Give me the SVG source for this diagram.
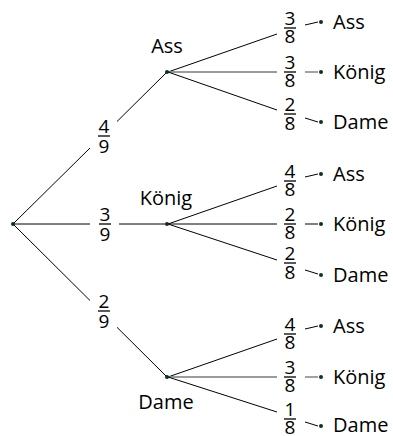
<svg xmlns="http://www.w3.org/2000/svg" width="393" height="436" viewBox="0 0 393 436">
  <style>
    .edge { stroke: #000; stroke-width: 1; fill: none; }
    .edge.grey { stroke: #7a7a7a; stroke-width: 1.4; }
    .bar { stroke: #000; stroke-width: 1.3; }
    .dot { fill: #0d3320; }
    text { font-family: "Open Sans", "Liberation Sans", sans-serif; font-size: 20px; fill: #000; }
    .num { text-anchor: middle; font-size: 19px; }
    .lbl { text-anchor: middle; }
  </style>

  <!-- connectors -->
  <g id="connectors">
    <!-- first stage -->
    <line class="edge" x1="14" y1="223" x2="90" y2="148"/>
    <line class="edge" x1="117" y1="121.5" x2="166" y2="73"/>
    <line class="edge" x1="14" y1="224" x2="90" y2="224"/>
    <line class="edge" x1="119" y1="224" x2="166" y2="224"/>
    <line class="edge" x1="14" y1="225" x2="90" y2="300.5"/>
    <line class="edge" x1="117" y1="327.3" x2="166" y2="376"/>

    <!-- second stage: Ass -->
    <line class="edge" x1="168" y1="72" x2="277" y2="34"/>
    <line class="edge grey" x1="168" y1="72" x2="277" y2="72"/>
    <line class="edge" x1="168" y1="72" x2="277" y2="110"/>
    <line class="edge" x1="305" y1="25" x2="318" y2="22"/>
    <line class="edge grey" x1="305" y1="72" x2="318" y2="72"/>
    <line class="edge" x1="305" y1="118" x2="318" y2="122"/>

    <!-- second stage: König -->
    <line class="edge" x1="168" y1="224" x2="277" y2="186"/>
    <line class="edge" x1="168" y1="224" x2="277" y2="224"/>
    <line class="edge" x1="168" y1="224" x2="277" y2="260"/>
    <line class="edge" x1="305" y1="177" x2="318" y2="174"/>
    <line class="edge" x1="305" y1="224" x2="318" y2="224"/>
    <line class="edge" x1="305" y1="270" x2="318" y2="274"/>

    <!-- second stage: Dame -->
    <line class="edge" x1="168" y1="377" x2="277" y2="339"/>
    <line class="edge grey" x1="168" y1="377" x2="277" y2="377"/>
    <line class="edge" x1="168" y1="377" x2="277" y2="412"/>
    <line class="edge" x1="305" y1="329" x2="318" y2="326"/>
    <line class="edge grey" x1="305" y1="377" x2="318" y2="377"/>
    <line class="edge" x1="305" y1="422" x2="318" y2="426"/>
  </g>

  <!-- first stage probabilities -->
  <g id="p-ass">
    <text class="num" x="104" y="133">4</text>
    <line class="bar" x1="98" y1="136" x2="110" y2="136"/>
    <text class="num" x="104" y="153">9</text>
  </g>
  <g id="p-koenig">
    <text class="num" x="105" y="221">3</text>
    <line class="bar" x1="99" y1="224" x2="111" y2="224"/>
    <text class="num" x="105" y="241">9</text>
  </g>
  <g id="p-dame">
    <text class="num" x="104" y="308">2</text>
    <line class="bar" x1="98" y1="311" x2="110" y2="311"/>
    <text class="num" x="104" y="328">9</text>
  </g>

  <!-- root -->
  <g id="root">
    <circle class="dot" cx="13" cy="224" r="2"/>
  </g>

  <!-- first stage nodes -->
  <g id="node-ass">
    <circle class="dot" cx="167" cy="72" r="2"/>
    <text class="lbl" x="167" y="53">Ass</text>
  </g>
  <g id="node-koenig">
    <circle class="dot" cx="167" cy="224" r="2"/>
    <text class="lbl" x="166" y="205">König</text>
  </g>
  <g id="node-dame">
    <circle class="dot" cx="167" cy="377" r="2"/>
    <text class="lbl" x="166" y="409">Dame</text>
  </g>

  <!-- second stage after Ass -->
  <g id="p-ass-ass">
    <text class="num" x="290" y="25">3</text>
    <line class="bar" x1="284" y1="28" x2="296" y2="28"/>
    <text class="num" x="290" y="43">8</text>
  </g>
  <g id="p-ass-koenig">
    <text class="num" x="290" y="69">3</text>
    <line class="bar" x1="284" y1="72" x2="296" y2="72"/>
    <text class="num" x="290" y="87">8</text>
  </g>
  <g id="p-ass-dame">
    <text class="num" x="290" y="111">2</text>
    <line class="bar" x1="284" y1="114" x2="296" y2="114"/>
    <text class="num" x="290" y="130">8</text>
  </g>
  <g id="leaf-ass-ass">
    <circle class="dot" cx="321" cy="22" r="2"/>
    <text x="333" y="29">Ass</text>
  </g>
  <g id="leaf-ass-koenig">
    <circle class="dot" cx="321" cy="72" r="2"/>
    <text x="333" y="79">König</text>
  </g>
  <g id="leaf-ass-dame">
    <circle class="dot" cx="321" cy="122" r="2"/>
    <text x="333" y="129">Dame</text>
  </g>

  <!-- second stage after König -->
  <g id="p-koenig-ass">
    <text class="num" x="290" y="178">4</text>
    <line class="bar" x1="284" y1="181" x2="296" y2="181"/>
    <text class="num" x="290" y="196">8</text>
  </g>
  <g id="p-koenig-koenig">
    <text class="num" x="290" y="221">2</text>
    <line class="bar" x1="284" y1="224" x2="296" y2="224"/>
    <text class="num" x="290" y="239">8</text>
  </g>
  <g id="p-koenig-dame">
    <text class="num" x="290" y="260">2</text>
    <line class="bar" x1="284" y1="263" x2="296" y2="263"/>
    <text class="num" x="290" y="279">8</text>
  </g>
  <g id="leaf-koenig-ass">
    <circle class="dot" cx="321" cy="174" r="2"/>
    <text x="333" y="181">Ass</text>
  </g>
  <g id="leaf-koenig-koenig">
    <circle class="dot" cx="321" cy="224" r="2"/>
    <text x="333" y="231">König</text>
  </g>
  <g id="leaf-koenig-dame">
    <circle class="dot" cx="321" cy="275" r="2"/>
    <text x="333" y="282">Dame</text>
  </g>

  <!-- second stage after Dame -->
  <g id="p-dame-ass">
    <text class="num" x="290" y="331">4</text>
    <line class="bar" x1="284" y1="334" x2="296" y2="334"/>
    <text class="num" x="290" y="349">8</text>
  </g>
  <g id="p-dame-koenig">
    <text class="num" x="290" y="374">3</text>
    <line class="bar" x1="284" y1="377" x2="296" y2="377"/>
    <text class="num" x="290" y="392">8</text>
  </g>
  <g id="p-dame-dame">
    <text class="num" x="290" y="416">1</text>
    <line class="bar" x1="284" y1="419" x2="296" y2="419"/>
    <text class="num" x="290" y="434">8</text>
  </g>
  <g id="leaf-dame-ass">
    <circle class="dot" cx="321" cy="326" r="2"/>
    <text x="333" y="333">Ass</text>
  </g>
  <g id="leaf-dame-koenig">
    <circle class="dot" cx="321" cy="377" r="2"/>
    <text x="333" y="384">König</text>
  </g>
  <g id="leaf-dame-dame">
    <circle class="dot" cx="321" cy="426" r="2"/>
    <text x="333" y="432">Dame</text>
  </g>
</svg>
